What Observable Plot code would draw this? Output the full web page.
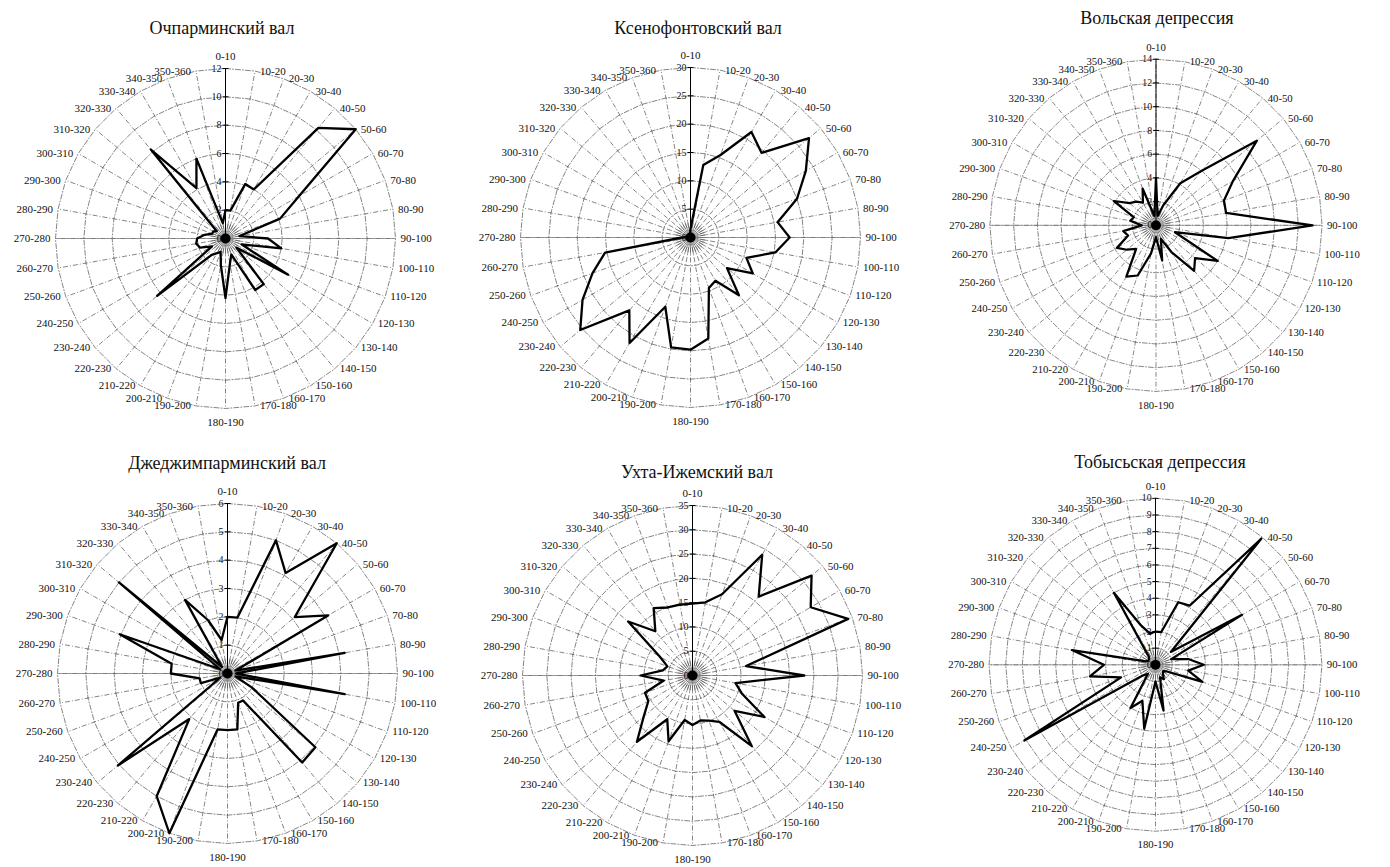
<!DOCTYPE html>
<html><head><meta charset="utf-8">
<script src="https://cdn.jsdelivr.net/npm/d3@7"></script>
<script src="https://cdn.jsdelivr.net/npm/@observablehq/plot@0.6"></script>
<style>
body{margin:0;background:#fff;}
#wrap{position:relative;width:1390px;height:867px;overflow:hidden;font-family:"Liberation Serif","Times New Roman",serif;background:#fff;}
.title{position:absolute;font-size:18px;transform:translate(-50%,-50%);white-space:nowrap;color:#111;}
.panel{position:absolute;}
.panel svg{overflow:visible;}
</style></head><body><div id="wrap"></div>
<script>
// direction classes (degrees), clockwise from north
const categories = d3.range(36).map(i => `${i*10}-${i*10+10}`);
const titles = ["Очпарминский вал","Ксенофонтовский вал","Вольская депрессия","Джеджимпарминский вал","Ухта-Ижемский вал","Тобысьская депрессия"];
const axisMax  = [12, 30, 14, 6, 35, 10];
const axisStep = [2, 5, 2, 1, 5, 1];

const ochparma  = [2.0,2.0,4.1,4.0,10.2,12.0,6.0,4.1,1.0,3.0,4.0,1.2,5.1,1.0,4.2,4.2,1.2,1.8,4.2,1.9,1.0,1.2,1.5,6.3,1.1,1.9,2.1,2.0,1.5,1.0,1.0,0.8,8.2,4.1,6.0,1.1];
const ksenofont = [1.5,13.0,15.5,21.5,19.5,27.3,23.5,20.0,15.6,17.5,15.2,10.5,12.7,8.4,13.3,8.8,9.5,18.1,19.8,19.7,13.0,21.5,16.8,25.4,22.0,18.4,15.3,1.5,0.5,0.5,0.5,0.5,0.5,0.5,0.5,0.5];
const volsk     = [4.0,0.8,1.8,4.1,6.0,11.1,7.5,6.1,6.0,13.2,6.2,1.7,6.0,4.3,5.0,2.6,1.2,3.0,1.0,2.4,4.5,5.0,2.6,3.2,3.8,2.5,2.8,1.2,2.2,2.0,4.1,2.9,2.6,2.2,3.3,0.8];
const dzhedzhim = [2.0,2.0,5.0,4.1,6.0,3.1,4.1,0.3,4.2,0.3,4.2,0.3,1.0,4.05,4.1,1.1,1.1,2.0,2.0,2.0,6.0,5.0,2.1,5.05,0.3,1.0,1.0,2.0,2.0,4.05,0.3,5.0,0.3,3.0,2.0,1.2];
const ukhta     = [14.8,15.3,17.8,28.7,21.2,32.0,28.1,34.1,11.2,23.0,9.0,10.8,17.1,11.3,19.0,11.0,9.9,9.4,10.2,9.3,14.4,10.4,17.8,13.1,10.5,10.4,6.0,10.7,6.2,5.5,7.8,17.3,11.9,16.0,14.9,14.8];
const tobys     = [2.0,2.0,4.0,4.1,9.9,1.2,6.0,1.0,2.0,2.9,2.0,3.0,0.8,0.6,0.7,1.0,0.8,2.8,1.0,3.9,2.3,3.0,0.7,1.0,9.1,2.2,4.0,3.1,5.1,0.6,0.5,0.5,0.6,5.0,2.5,1.9];
const series = [ochparma, ksenofont, volsk, dzhedzhim, ukhta, tobys];

// page layout (panel centres, title baselines)
const layout = [
  {cx:225, cy:238, tx:222, ty:28},
  {cx:690, cy:237, tx:698, ty:28},
  {cx:1161, cy:230, tx:1157, ty:18},
  {cx:227, cy:673, tx:227, ty:463},
  {cx:692, cy:675, tx:697, ty:472},
  {cx:1160, cy:669, tx:1160, ty:462}
];
const R = 170, W = 480, H = 450;
const FONT = "Liberation Serif, Times New Roman, serif";
const rad = a => a * Math.PI / 180;
const sx = (v, a) => v * Math.sin(rad(a));
const sy = (v, a) => v * Math.cos(rad(a));

const wrap = document.getElementById("wrap");
series.forEach((vals, i) => {
  const max = axisMax[i], step = axisStep[i], k = max / R;
  const pts = categories.map((c, j) => ({cat: c, ang: j * 10, v: vals[j]}));
  const ticks = d3.range(step, max + step / 2, step);
  const ringPts = ticks.flatMap(t => pts.map(p => ({t, ang: p.ang})));
  const right = pts.filter(p => p.ang > 0 && p.ang < 180);
  const left = pts.filter(p => p.ang > 180);
  const top = pts.filter(p => p.ang === 0);
  const bottom = pts.filter(p => p.ang === 180);
  const lab = (data, opts) => Plot.text(data, {x: d => sx(max, d.ang), y: d => sy(max, d.ang), text: "cat", fontSize: 11, fontFamily: FONT, fill: "#111", ...opts});
  const chart = Plot.plot({
    width: W, height: H, margin: 0,
    x: {domain: [-W / 2 * k, W / 2 * k], axis: null},
    y: {domain: [-H / 2 * k, H / 2 * k], axis: null},
    style: {background: "transparent", overflow: "visible", fontFamily: FONT},
    marks: [
      Plot.line(ringPts, {x: d => sx(d.t, d.ang), y: d => sy(d.t, d.ang), z: "t", curve: "linear-closed", stroke: "#333", strokeWidth: 0.6, strokeDasharray: "5,2,1,2"}),
      Plot.link(pts, {x1: () => 0, y1: () => 0, x2: d => sx(max, d.ang), y2: d => sy(max, d.ang), stroke: "#333", strokeWidth: 0.6, strokeDasharray: "5,2,1,2"}),
      Plot.link(pts, {x1: () => 0, y1: () => 0, x2: d => sx(max * 0.1, d.ang), y2: d => sy(max * 0.1, d.ang), stroke: "#555", strokeWidth: 0.6}),
      Plot.link(pts.filter(p => p.ang === 90 || p.ang === 270), {x1: () => 0, y1: () => 0, x2: d => sx(max, d.ang), y2: d => sy(max, d.ang), stroke: "#777", strokeWidth: 0.7}),
      Plot.ruleX([0], {y1: () => 0, y2: () => max, stroke: "#000", strokeWidth: 1}),
      Plot.link(ticks, {x1: () => -3 * k, x2: () => 3 * k, y1: d => d, y2: d => d, stroke: "#000", strokeWidth: 1}),
      Plot.dot([0], {x: () => 0, y: () => 0, r: 5, fill: "#000"}),
      Plot.line(pts, {x: d => sx(d.v, d.ang), y: d => sy(d.v, d.ang), curve: "linear-closed", stroke: "#000", strokeWidth: 2.3}),
      Plot.text([0, ...ticks], {x: () => 0, y: d => d, text: d => String(d), textAnchor: "end", dx: -4, fontSize: 10, fontFamily: FONT, fill: "#111"}),
      lab(right, {textAnchor: "start", dx: 5}),
      lab(left, {textAnchor: "end", dx: -5}),
      lab(top, {textAnchor: "middle", dy: -12}),
      lab(bottom, {textAnchor: "middle", dy: 14})
    ]
  });
  const L = layout[i];
  const div = document.createElement("div");
  div.className = "panel";
  div.style.left = (L.cx - W / 2) + "px";
  div.style.top = (L.cy - H / 2) + "px";
  div.appendChild(chart);
  wrap.appendChild(div);
  const t = document.createElement("div");
  t.className = "title";
  t.style.left = L.tx + "px";
  t.style.top = L.ty + "px";
  t.textContent = titles[i];
  wrap.appendChild(t);
});
</script></body></html>
